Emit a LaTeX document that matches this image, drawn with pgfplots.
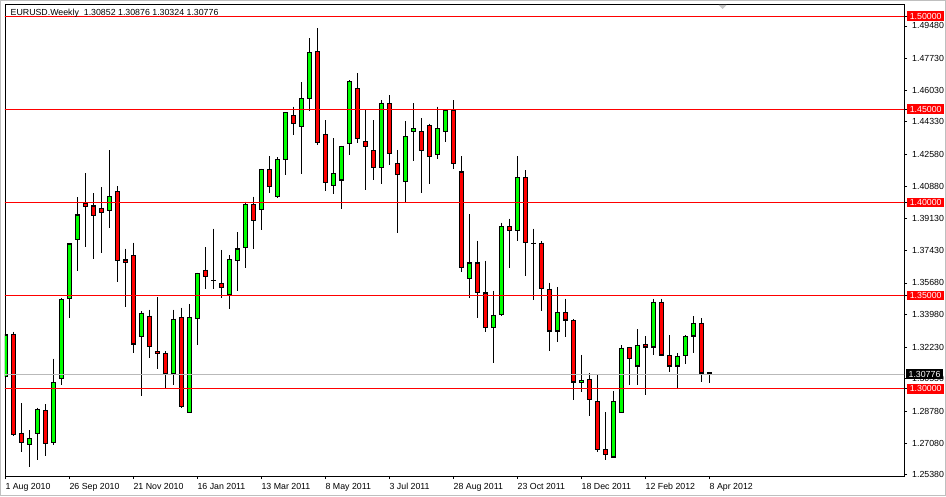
\documentclass[border=0pt]{standalone}
\usepackage{pgfplots}
\pgfplotsset{compat=1.18}
\usepackage{pgfplotstable}
\usepackage{fontspec}
\setmainfont{Liberation Sans}
\definecolor{candleRed}{RGB}{255,0,0}
\definecolor{candleGreen}{RGB}{0,255,0}

% bearish weeks (close < open)
\pgfplotstableread{
i O H L C
1 1.3293 1.3305 1.2748 1.2751
2 1.2760 1.2923 1.2661 1.2708
5 1.2884 1.2916 1.2641 1.2706
10 1.3996 1.4156 1.3759 1.3977
11 1.3982 1.4049 1.3695 1.3929
12 1.3971 1.4081 1.3727 1.3944
14 1.4058 1.4086 1.3571 1.3686
15 1.3692 1.3752 1.3440 1.3679
16 1.3715 1.3785 1.3194 1.3239
18 1.3390 1.3424 1.3164 1.3225
19 1.3201 1.3490 1.3106 1.3190
20 1.3190 1.3201 1.3004 1.3079
22 1.3384 1.3435 1.2898 1.2905
25 1.3638 1.3759 1.3533 1.3603
27 1.3566 1.3745 1.3488 1.3544
31 1.3988 1.4032 1.3748 1.3901
33 1.4177 1.4248 1.4050 1.4086
36 1.4467 1.4515 1.4362 1.4424
39 1.4811 1.4937 1.4308 1.4319
40 1.4366 1.4442 1.4061 1.4104
44 1.4612 1.4695 1.4319 1.4343
45 1.4327 1.4498 1.4066 1.4300
46 1.4279 1.4442 1.4119 1.4188
48 1.4532 1.4575 1.4201 1.4260
49 1.4210 1.4282 1.3835 1.4150
52 1.4381 1.4452 1.4050 1.4279
53 1.4413 1.4424 1.4099 1.4246
56 1.4494 1.4549 1.4181 1.4208
57 1.4165 1.4248 1.3625 1.3650
59 1.3676 1.3795 1.3382 1.3515
60 1.3515 1.3688 1.3305 1.3327
63 1.3870 1.3913 1.3650 1.3847
65 1.4133 1.4172 1.3603 1.3783
67 1.3783 1.3791 1.3415 1.3535
68 1.3535 1.3569 1.3205 1.3309
70 1.3411 1.3483 1.3275 1.3368
71 1.3368 1.3375 1.2941 1.3035
73 1.3051 1.3083 1.2855 1.2943
74 1.2932 1.3072 1.2661 1.2672
75 1.2672 1.2873 1.2618 1.2647
78 1.3223 1.3225 1.3022 1.3159
80 1.3239 1.3282 1.2968 1.3223
82 1.3465 1.3483 1.3179 1.3180
83 1.3180 1.3288 1.3092 1.3121
87 1.3352 1.3379 1.3035 1.3083
88 1.30852 1.30876 1.30324 1.30776
}\redc

% bullish weeks (close >= open)
\pgfplotstableread{
i O H L C
0 1.3063 1.3332 1.3060 1.3289
3 1.2701 1.2776 1.2580 1.2733
4 1.2756 1.2898 1.2618 1.2889
6 1.2709 1.3162 1.2698 1.3035
7 1.3056 1.3488 1.3020 1.3480
8 1.3483 1.3783 1.3377 1.3778
9 1.3799 1.4027 1.3630 1.3934
13 1.3955 1.4280 1.3862 1.4031
17 1.3277 1.3417 1.2962 1.3406
21 1.3079 1.3424 1.3020 1.3374
23 1.2873 1.3456 1.2869 1.3384
24 1.3374 1.3623 1.3237 1.3618
26 1.3583 1.3860 1.3538 1.3583
28 1.3507 1.3716 1.3426 1.3693
29 1.3686 1.3840 1.3522 1.3751
30 1.3755 1.4005 1.3650 1.3988
32 1.3961 1.4182 1.3853 1.4178
34 1.4029 1.4244 1.4023 1.4230
35 1.4228 1.4483 1.4148 1.4482
37 1.4408 1.4646 1.4152 1.4558
38 1.4556 1.4883 1.4493 1.4806
41 1.4088 1.4345 1.4045 1.4155
42 1.4120 1.4306 1.3964 1.4304
43 1.4316 1.4657 1.4255 1.4650
47 1.4188 1.4549 1.4099 1.4532
50 1.4111 1.4436 1.4005 1.4353
51 1.4381 1.4533 1.4221 1.4397
54 1.4257 1.4515 1.4233 1.4397
55 1.4381 1.4499 1.4323 1.4494
58 1.3590 1.3936 1.3488 1.3676
61 1.3327 1.3526 1.3139 1.3395
62 1.3395 1.3892 1.3390 1.3870
64 1.3847 1.4248 1.3792 1.4133
66 1.3783 1.3860 1.3477 1.3783
69 1.3309 1.3547 1.3253 1.3411
72 1.3035 1.3182 1.2981 1.3045
76 1.2632 1.2986 1.2626 1.2932
77 1.2873 1.3234 1.2872 1.3218
79 1.3121 1.3320 1.3022 1.3234
81 1.3223 1.3483 1.3180 1.3465
84 1.3121 1.3191 1.3000 1.3175
85 1.3175 1.3288 1.3131 1.3282
86 1.3282 1.3388 1.3191 1.3352
}\greenc

\pgfplotsset{
  wick/.style={draw=none, mark=none, forget plot,
    error bars/.cd, y dir=minus, y explicit, error mark=none,
    error bar style={draw=black, line width=0.9pt, solid}},
  bodyout/.style={draw=none, mark=none, forget plot,
    error bars/.cd, y dir=minus, y explicit, error mark=none,
    error bar style={draw=black, line width=5pt, line cap=butt, solid}},
  bodyin/.style={draw=none, mark=none, forget plot,
    error bars/.cd, y dir=minus, y explicit, error mark=none,
    error bar style={draw=#1, line width=3.2pt, line cap=butt, solid}},
}

\begin{document}
\begin{tikzpicture}[font=\fontsize{8.8}{10}\selectfont]
\begin{axis}[
  at={(0pt,0pt)}, anchor=south west,
  scale only axis, width=899pt, height=472pt,
  xmin=-0.04, xmax=112.3,
  ymin=1.2531, ymax=1.5066,
  axis line style={black, line width=0.8pt},
  grid=none,
  xtick pos=left, ytick pos=right, yticklabel pos=right,
  tick align=outside, major tick length=3pt,
  tick style={black, line width=0.8pt},
  xtick={0,8,16,24,32,40,48,56,64,72,80,88},
  xticklabels={1 Aug 2010,26 Sep 2010,21 Nov 2010,16 Jan 2011,13 Mar 2011,8 May 2011,3 Jul 2011,28 Aug 2011,23 Oct 2011,18 Dec 2011,12 Feb 2012,8 Apr 2012},
  xticklabel style={anchor=north west, inner sep=0pt, yshift=-4pt},
  ytick={1.2538,1.2708,1.2878,1.3053,1.3223,1.3398,1.3568,1.3743,1.3913,1.4088,1.4258,1.4433,1.4603,1.4773,1.4948},
  yticklabels={1.25380,1.27080,1.28780,1.30530,1.32230,1.33980,1.35680,1.37430,1.39130,1.40880,1.42580,1.44330,1.46030,1.47730,1.49480},
  yticklabel style={anchor=west, inner sep=0pt, xshift=5pt},
  extra y ticks={1.5,1.45,1.4,1.35,1.3},
  extra y tick labels={1.50000,1.45000,1.40000,1.35000,1.30000},
  extra y tick style={grid=none, yticklabel style={fill=candleRed, text=white, inner xsep=2.6pt, inner ysep=1.8pt, xshift=-5pt}},
]
% wicks
\addplot[wick] table[x=i, y=H, y error minus expr={\thisrow{H}-\thisrow{L}}] {\redc};
\addplot[wick] table[x=i, y=H, y error minus expr={\thisrow{H}-\thisrow{L}}] {\greenc};
% body outlines
\addplot[bodyout] table[x=i, y expr={\thisrow{O}+0.0002}, y error minus expr={\thisrow{O}-\thisrow{C}+0.0004}] {\redc};
\addplot[bodyout] table[x=i, y expr={\thisrow{C}+0.0002}, y error minus expr={\thisrow{C}-\thisrow{O}+0.0004}] {\greenc};
% body fills
\addplot[bodyin=candleRed] table[x=i, y expr={\thisrow{O}-0.0004}, y error minus expr={max(\thisrow{O}-\thisrow{C}-0.0008,0)}] {\redc};
\addplot[bodyin=candleGreen] table[x=i, y expr={\thisrow{C}-0.0004}, y error minus expr={max(\thisrow{C}-\thisrow{O}-0.0008,0)}] {\greenc};
% level lines
\addplot[color=gray!55, line width=0.8pt, forget plot] coordinates {(-1,1.30776) (113,1.30776)};
\addplot[color=candleRed, line width=0.8pt, forget plot] coordinates {(-1,1.5) (113,1.5)};
\addplot[color=candleRed, line width=0.8pt, forget plot] coordinates {(-1,1.45) (113,1.45)};
\addplot[color=candleRed, line width=0.8pt, forget plot] coordinates {(-1,1.4) (113,1.4)};
\addplot[color=candleRed, line width=0.8pt, forget plot] coordinates {(-1,1.35) (113,1.35)};
\addplot[color=candleRed, line width=0.8pt, forget plot] coordinates {(-1,1.3) (113,1.3)};
\end{axis}
\node[anchor=west, fill=black, text=white, inner xsep=2.4pt, inner ysep=1.8pt] at (901pt,101.8pt) {1.30776};
\node[anchor=base west, inner sep=0pt] at (5.5pt,460.3pt) {EURUSD.Weekly\ \ 1.30852 1.30876 1.30324 1.30776};
\fill[gray!45] (713.5pt,471pt) -- (721.5pt,471pt) -- (717.5pt,467pt) -- cycle;
\draw[gray!50, line width=1pt] (-4.5pt,-19.5pt) rectangle (940.5pt,475.5pt);
\pgfresetboundingbox
\path[use as bounding box] (-5pt,-20pt) rectangle (941pt,476pt);
\end{tikzpicture}
\end{document}
